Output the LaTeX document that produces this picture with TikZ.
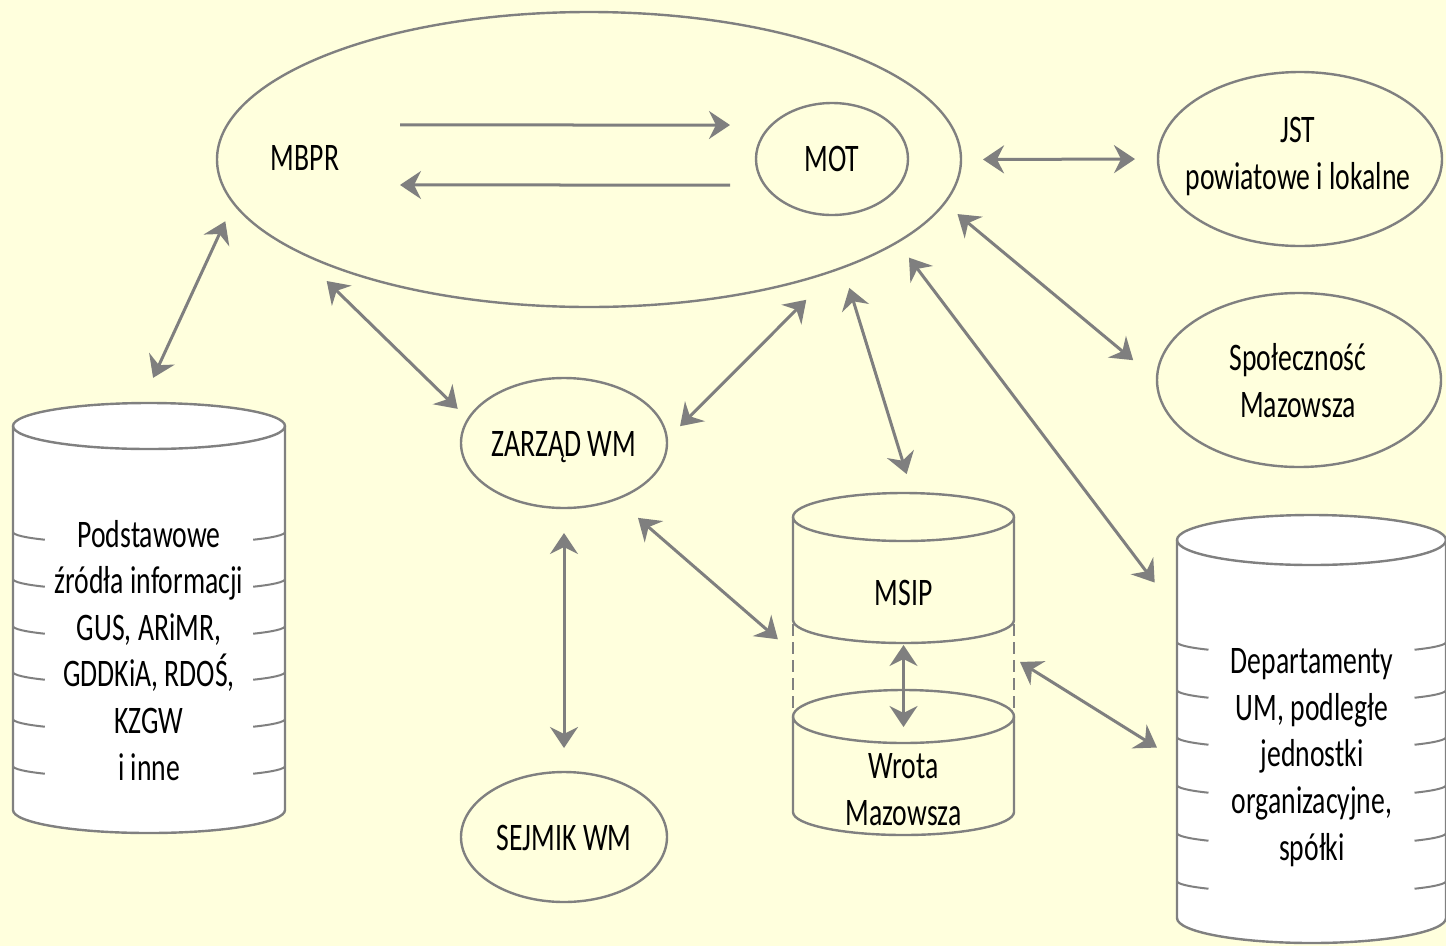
\documentclass[tikz,border=0pt]{standalone}
\usepackage{fontspec}
\setmainfont{Carlito}[FakeStretch=0.71]
\usetikzlibrary{arrows.meta,shapes.geometric}
\definecolor{bgcol}{HTML}{FFFFDD}
\definecolor{linecol}{HTML}{808080}
\definecolor{arrcol}{HTML}{7F7F7F}
\tikzset{
  outl/.style={draw=linecol, line width=2.4pt},
  ell/.style={ellipse, outl, inner sep=0pt, outer sep=0pt},
  hold/.style={rectangle, draw=none, inner sep=0pt, outer sep=0pt},
  lbl/.style={inner sep=0pt, outer sep=0pt, align=center, anchor=base,
    font=\fontsize{39}{46.6}\selectfont},
  conn/.style={draw=arrcol, line width=3pt,
    {Stealth[length=21pt,width=28pt,inset=7pt]}-{Stealth[length=21pt,width=28pt,inset=7pt]}},
  oneway/.style={draw=arrcol, line width=3pt, -{Stealth[length=21pt,width=28pt,inset=7pt]}},
  tick/.style={draw=linecol, line width=2pt}
}
\begin{document}
\begin{tikzpicture}[x=1pt,y=1pt]
\fill[bgcol] (0,0) rectangle (1446,-946);
\useasboundingbox (0,0) rectangle (1446,-946);

% ellipses
\node[ell, minimum width=744pt, minimum height=295pt] (big) at (589,-159.5) {};
\node[ell, minimum width=152pt, minimum height=112pt] (mot) at (832,-159) {};
\node[ell, minimum width=284pt, minimum height=174pt] (jst) at (1300,-159) {};
\node[ell, minimum width=284pt, minimum height=174pt] (spol) at (1299,-380) {};
\node[ell, minimum width=206pt, minimum height=130pt] (zarz) at (564,-443) {};
\node[ell, minimum width=206pt, minimum height=130pt] (sejm) at (564,-837) {};

% holders for cylinders
\node[hold, minimum width=272pt, minimum height=430pt] (src) at (149,-618) {};
\node[hold, minimum width=221pt, minimum height=342pt] (sys) at (903.5,-664) {};
\node[hold, minimum width=221pt, minimum height=150pt] (msip) at (903.5,-568) {};
\node[hold, minimum width=221pt, minimum height=145pt] (wrota) at (903.5,-762.5) {};
\node[hold, minimum width=269pt, minimum height=428pt] (dep) at (1311.5,-729) {};

% left cylinder
\draw[outl, fill=white] (13,-426) -- (13,-810)
  arc[start angle=180, end angle=360, x radius=136, y radius=23] -- (285,-426)
  arc[start angle=0, end angle=180, x radius=136, y radius=23] -- cycle;
\draw[outl] (13,-426) arc[start angle=180, end angle=360, x radius=136, y radius=23];
\foreach \yy in {532,579,626,672,719,766} {
  \draw[tick] (13,-\yy) arc[start angle=180, end angle=220, x radius=136, y radius=12];
  \draw[tick] (285,-\yy) arc[start angle=0, end angle=-40, x radius=136, y radius=12];
}

% right cylinder
\draw[outl, fill=white] (1177,-540) -- (1177,-918)
  arc[start angle=180, end angle=360, x radius=134.5, y radius=25] -- (1446,-540)
  arc[start angle=0, end angle=180, x radius=134.5, y radius=25] -- cycle;
\draw[outl] (1177,-540) arc[start angle=180, end angle=360, x radius=134.5, y radius=25];
\foreach \yy in {642,690,737,785,833,881} {
  \draw[tick] (1177,-\yy) arc[start angle=180, end angle=220, x radius=134.5, y radius=12];
  \draw[tick] (1446,-\yy) arc[start angle=0, end angle=-40, x radius=134.5, y radius=12];
}

% MSIP / Wrota
\draw[outl] (903.5,-517) ellipse[x radius=110.5, y radius=24];
\draw[outl] (793,-517) -- (793,-620)
  arc[start angle=180, end angle=360, x radius=110.5, y radius=23] -- (1014,-517);
\draw[outl, dash pattern=on 12pt off 6pt] (793,-624) -- (793,-712);
\draw[outl, dash pattern=on 12pt off 6pt] (1014,-624) -- (1014,-712);
\draw[outl] (903.5,-716.5) ellipse[x radius=110.5, y radius=26.5];
\draw[outl] (793,-716.5) -- (793,-812)
  arc[start angle=180, end angle=360, x radius=110.5, y radius=23] -- (1014,-716.5);

% labels (anchor base = baseline of the last line)
\node[lbl] (tmbpr) at (305,-170) {MBPR};
\node[lbl] (tmot) at (832,-171) {MOT};
\node[lbl] (tjst) at (1298,-189) {JST\\powiatowe i lokalne};
\node[lbl] (tspol) at (1298,-417) {Społeczność\\Mazowsza};
\node[lbl] (tzarz) at (564,-456) {ZARZĄD WM};
\node[lbl] (tsejm) at (564,-850) {SEJMIK WM};
\node[lbl] (tmsip) at (903.5,-605) {MSIP};
\node[lbl] (twrota) at (903.5,-825) {Wrota\\Mazowsza};
\node[lbl] (tsrc) at (149,-780) {Podstawowe\\źródła informacji\\GUS, ARiMR,\\GDDKiA, RDOŚ,\\KZGW\\i inne};
\node[lbl] (tdep) at (1312,-860) {Departamenty\\UM, podległe\\jednostki\\organizacyjne,\\spółki};

% one-way arrows inside the big ellipse
\draw[oneway, shorten >=26pt] ([shift={(95pt,32.5pt)}]tmbpr.center) -- ([yshift=34pt]mot.west);
\draw[oneway, shorten <=26pt] ([yshift=-26pt]mot.west) -- ([shift={(95pt,-27.5pt)}]tmbpr.center);

% two-way connectors
\draw[conn, shorten <=20pt, shorten >=27.7pt] (big.187.1) -- (src.92.9);
\draw[conn, shorten <=45pt, shorten >=14.7pt] (big.197.9) -- (zarz.166.8);
\draw[conn, shorten <=42.6pt, shorten >=18.7pt] (big.336.0) -- (zarz.2.1);
\draw[conn, shorten <=21.6pt, shorten >=19.8pt] (big.337.6) -- (sys.87.3);
\draw[conn, shorten <=19.5pt, shorten >=37pt] (big.345.5) -- (dep.139.4);
\draw[conn, shorten <=17.1pt, shorten >=31pt] (big.353.1) -- (spol.180);
\draw[conn, shorten <=22pt, shorten >=23pt] (big.east) -- (jst.west);
\draw[conn, shorten <=25pt, shorten >=24pt] (zarz.south) -- (sejm.north);
\draw[conn, shorten <=28.8pt, shorten >=20pt] (zarz.313.1) -- (sys.174.9);
\draw[conn, shorten <=7.1pt, shorten >=23.6pt] (sys.3.0) -- (dep.193.2);
\draw[conn, shorten <=2pt, shorten >=35.5pt] (msip.south) -- (wrota.center);
\end{tikzpicture}
\end{document}
